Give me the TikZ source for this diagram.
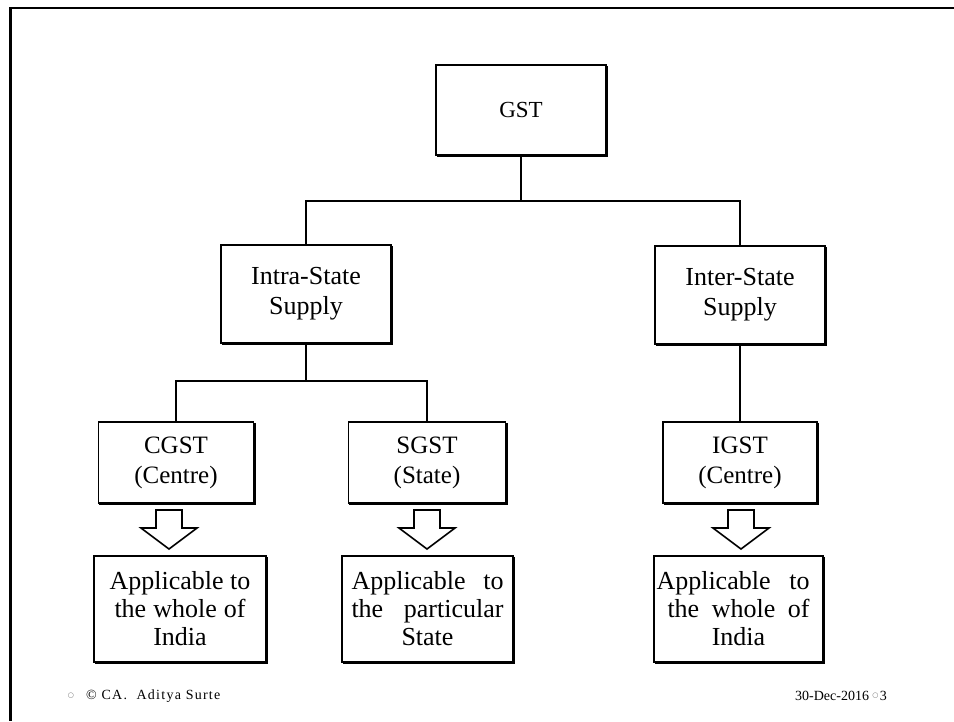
\documentclass[tikz,border=0pt]{standalone}
\usepackage{fontspec}
\setmainfont{Liberation Serif}
\newfontfamily\symfont{DejaVu Sans}
\newfontfamily\spacedserif[LetterSpace=9]{Liberation Serif}
\usetikzlibrary{shadows}
\begin{document}
\begin{tikzpicture}[x=1pt,y=-1pt,
  box/.style={draw=black,line width=1.6pt,fill=white,align=center,
    font=\fontsize{25}{30}\selectfont,inner sep=0pt,
    copy shadow={shadow xshift=1.6pt,shadow yshift=-1.6pt}},
  bigtext/.style={font=\fontsize{26}{30}\selectfont},
  apptext/.style={font=\fontsize{26}{28}\selectfont},
  conn/.style={line width=2.6pt,line cap=rect},
  blockarrow/.style={draw=black,line width=1.6pt,fill=white,line join=miter},
  foot/.style={font=\fontsize{14}{16}\selectfont,inner sep=0pt,anchor=west},
  circ/.style={font=\symfont\fontsize{7}{8}\selectfont,text=black!55,inner sep=0pt}]
\useasboundingbox (0,0) rectangle (954,721);
\fill[white] (0,0) rectangle (954,721);
% slide frame (top and left)
\draw[line width=2.4pt] (954,8) -- (10.5,8) -- (10.5,721);
% boxes
\node[box,font=\fontsize{23}{28}\selectfont,minimum width=170,minimum height=90] (gst) at (521,110) {GST};
\node[box,bigtext,minimum width=170,minimum height=98] (intra) at (306,294) {Intra-State\\Supply};
\node[box,bigtext,minimum width=170,minimum height=98] (inter) at (740,295) {Inter-State\\Supply};
\node[box,minimum width=155,minimum height=81] (cgst) at (176,462.5) {CGST\\(Centre)};
\node[box,minimum width=157,minimum height=81] (sgst) at (427,462.5) {SGST\\(State)};
\node[box,minimum width=154,minimum height=81] (igst) at (740,462.5) {IGST\\(Centre)};
\node[box,apptext,minimum width=172,minimum height=106] (cap) at (180,609)
  {Applicable to\\\hbox to 131pt{the\hfil whole\hfil of}\\India};
\node[box,apptext,minimum width=171,minimum height=106] (sap) at (427.5,609)
  {\hbox to 152pt{Applicable\hfil to}\\\hbox to 152pt{the\hfil particular}\\State};
\node[box,apptext,minimum width=169,minimum height=106] (iap) at (738.5,609)
  {\hbox to 153pt{Applicable\hfil to}\hspace*{11pt}\\\hbox to 142pt{the\hfil whole\hfil of}\hspace*{10pt}\\India};
% connectors
\coordinate (j1) at (521,201);
\coordinate (j2) at (306,381);
\draw[conn] (gst.south) -- (j1);
\draw[conn] (intra.north) |- (j1) -| (inter.north);
\draw[conn] (intra.south) -- (j2);
\draw[conn] (cgst.north) |- (j2) -| (sgst.north);
\draw[conn] (inter.south) -- (igst.north);
% block arrows
\foreach \cx in {169,427,741}{
  \draw[blockarrow] (\cx-13,510) -- (\cx+13,510) -- (\cx+13,528) -- (\cx+28,528)
    -- (\cx,549) -- (\cx-28,528) -- (\cx-13,528) -- cycle;
}
% footer
\node[circ] (c1) at (71,696) {○};
\node[foot,font=\spacedserif\fontsize{14}{16}\selectfont] (f1) at (86,696) {© CA.\ \ Aditya Surte};
\node[foot] (f2) at (795,696) {30-Dec-2016};
\node[circ,anchor=west] (c2) at ([xshift=3pt]f2.east) {○};
\node[foot] (f3) at ([xshift=1pt]c2.east) {3};
\end{tikzpicture}
\end{document}
